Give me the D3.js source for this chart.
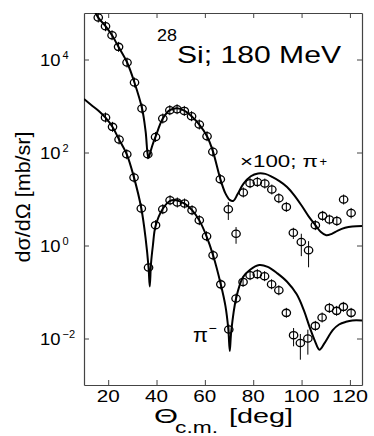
<!DOCTYPE html>
<html>
<head>
<meta charset="utf-8">
<script src="https://cdn.jsdelivr.net/npm/d3@7"></script>
<style>
  body { margin: 0; background: #fff; }
  svg { display: block; font-family: "Liberation Sans", Arial, sans-serif; }
</style>
</head>
<body>
<svg id="chart" width="374" height="436"></svg>
<script>
// tick labels
var xTicks = [20, 40, 60, 80, 100, 120];
var yTicks = [1e4, 1e2, 1e0, 1e-2];
var yExps = ["4", "2", "0", "\u22122"];

// pi+ data (x100), angle in deg, dsigma/dOmega in mb/sr
var piPlusDeg = [15.9, 18.9, 21.6, 24.3, 27.8, 30.9, 34.0, 36.4, 39.6, 42.6, 45.5, 48.5,
                 51.5, 54.5, 57.7, 60.9, 63.3, 66.4, 69.7, 72.9, 75.9, 78.7, 81.7, 84.8,
                 87.7, 90.6, 93.7, 96.6, 99.9, 102.9, 105.7, 108.7, 111.5, 114.6, 117.4, 120.5];
var piPlusVal = [80000, 52000, 33300, 18700, 8600, 3200, 883, 92, 216, 538, 813, 853,
                 785, 604, 400, 224, 104, 26.7, 6.04, 1.79, 13.8, 21.9, 23.3, 21.5,
                 16.0, 10.4, 6.76, 1.88, 1.19, 0.79, 2.74, 4.34, 3.62, 3.38, 9.75, 5.02];
var piPlusErr = [0, 0, 0, 0, 0, 0, 0, 0, 0, 0, 0, 0,
                 0, 0, 0, 0, 0, 0, 2.5, 0.7, 0, 0, 0, 0,
                 0, 0, 0, 0.5, 0.6, 0.45, 0.3, 0.4, 0.5, 0.6, 1.0, 1.2];

// pi- data
var piMinusDeg = [18.9, 21.8, 24.5, 27.7, 30.7, 33.7, 36.7, 39.6, 42.6, 45.6, 48.6, 51.6,
                  54.7, 57.7, 60.7, 63.4, 66.6, 69.9, 72.9, 75.8, 78.7, 81.7, 84.7, 87.6,
                  90.6, 93.7, 96.7, 99.5, 102.6, 105.7, 108.5, 111.5, 114.5, 117.3, 120.5];
var piMinusVal = [566, 356, 191, 91.8, 29.0, 6.25, 0.337, 2.74, 6.04, 9.42, 8.41, 8.0,
                  5.74, 3.50, 1.58, 0.618, 0.146, 0.0156, 0.0724, 0.165, 0.230, 0.242, 0.219, 0.147,
                  0.109, 0.0356, 0.0118, 0.0080, 0.0100, 0.0187, 0.0283, 0.0455, 0.0393, 0.0479, 0.0356];
var piMinusErr = [0, 0, 0, 0, 0, 0, 0, 0, 0, 0, 0, 0,
                  0, 0, 0, 0, 0, 0, 0, 0, 0, 0, 0, 0,
                  0, 0.006, 0.005, 0.0045, 0.0055, 0.004, 0.004, 0.005, 0.005, 0.005, 0.006];

// theory curves
var thPlusDeg = [13.5, 15.9, 18.9, 21.6, 24.3, 27.8, 30.9, 34.0, 35.5, 36.6, 37.3, 38.2,
                 39.6, 42.6, 45.5, 48.5, 51.5, 54.5, 57.7, 60.9, 63.3, 66.4, 68.5, 70.3,
                 71.8, 73.5, 76.0, 79.0, 82.0, 85.0, 88.0, 91.0, 94.0, 97.0, 100.0, 103.0,
                 105.7, 108.0, 110.2, 112.5, 115.0, 118.0, 121.0, 125.0];
var thPlusVal = [141000, 79400, 52500, 33100, 18600, 8710, 3160, 891, 282, 75.9, 95.5, 138,
                 219, 537, 813, 891, 794, 603, 398, 224, 107, 26.9, 13.2, 9.55,
                 9.12, 12.6, 21.4, 30.9, 35.5, 34.7, 29.5, 24.0, 18.2, 12.0, 7.24, 4.17,
                 2.75, 1.95, 1.66, 1.78, 2.09, 2.40, 2.57, 2.63];

var thMinusDeg = [10.0, 13.0, 16.0, 18.9, 21.8, 24.5, 27.7, 30.7, 33.7, 35.5, 36.7, 37.2,
                  37.7, 38.5, 39.6, 42.6, 45.6, 48.6, 51.6, 54.7, 57.7, 60.7, 63.4, 66.6,
                  68.5, 69.7, 70.3, 70.9, 72.9, 75.8, 78.7, 82.5, 86.0, 90.0, 94.0, 98.0,
                  101.0, 103.3, 105.5, 107.4, 109.5, 112.9, 115.5, 118.4, 121.0, 125.0];
var thMinusVal = [1410, 1050, 794, 562, 355, 191, 91.2, 28.8, 6.31, 1.41, 0.339, 0.132,
                  0.398, 1.0, 2.63, 6.17, 9.12, 9.33, 7.94, 5.75, 3.47, 1.58, 0.617, 0.145,
                  0.0501, 0.0158, 0.00537, 0.0141, 0.0724, 0.209, 0.302, 0.380, 0.347, 0.251, 0.166, 0.0891,
                  0.0398, 0.0178, 0.00891, 0.00575, 0.00794, 0.0151, 0.0200, 0.0229, 0.0245, 0.0245];

var svg = d3.select("#chart");
var margin = {top: 13, right: 12, bottom: 51, left: 84},
    width = 374 - margin.left - margin.right,
    height = 436 - margin.top - margin.bottom;

var x = d3.scaleLinear().domain([10, 125]).range([margin.left, margin.left + width]);
var y = d3.scaleLog().domain([1e-3, 1e5]).range([margin.top + height, margin.top]);

svg.append("defs").append("clipPath").attr("id", "plotclip")
  .append("rect")
    .attr("x", margin.left).attr("y", margin.top)
    .attr("width", width).attr("height", height);

// axes, ticks inward on all four sides
var axisColor = "#444";
function styleAxis(g) {
  g.selectAll("path").attr("stroke", axisColor).attr("stroke-width", 1.2);
  g.selectAll("line").attr("stroke", axisColor).attr("stroke-width", 1);
  g.selectAll("text").remove();
}
svg.append("g").attr("transform", "translate(0," + (margin.top + height) + ")")
  .call(d3.axisBottom(x).tickValues(xTicks).tickSizeInner(-5).tickSizeOuter(0)).call(styleAxis);
svg.append("g").attr("transform", "translate(0," + margin.top + ")")
  .call(d3.axisTop(x).tickValues(xTicks).tickSizeInner(-5).tickSizeOuter(0)).call(styleAxis);
svg.append("g").attr("transform", "translate(" + margin.left + ",0)")
  .call(d3.axisLeft(y).tickValues(yTicks).tickSizeInner(-5).tickSizeOuter(0)).call(styleAxis);
svg.append("g").attr("transform", "translate(" + (margin.left + width) + ",0)")
  .call(d3.axisRight(y).tickValues(yTicks).tickSizeInner(-5).tickSizeOuter(0)).call(styleAxis);

// x tick labels
svg.append("g").selectAll("text").data(xTicks).join("text")
  .attr("x", d => x(d)).attr("y", margin.top + height + 17)
  .attr("text-anchor", "middle")
  .attr("font-size", 16)
  .attr("textLength", d => d >= 100 ? 36 : 23)
  .attr("lengthAdjust", "spacingAndGlyphs")
  .text(d => d);

// y tick labels 10^n
var ylab = svg.append("g").selectAll("g").data(yTicks).join("g");
ylab.append("text")
  .attr("x", 40).attr("y", d => y(d) + 6.5)
  .attr("font-size", 16.5)
  .attr("textLength", 20.5).attr("lengthAdjust", "spacingAndGlyphs")
  .text("10");
ylab.append("text")
  .attr("x", 62.5).attr("y", d => y(d) - 1)
  .attr("font-size", 11)
  .text((d, i) => yExps[i]);

// axis titles
svg.append("text").attr("x", 154).attr("y", 423).attr("font-size", 21)
  .attr("textLength", 24).attr("lengthAdjust", "spacingAndGlyphs").text("\u0398");
svg.append("text").attr("x", 175).attr("y", 433).attr("font-size", 16)
  .attr("textLength", 43).attr("lengthAdjust", "spacingAndGlyphs").text("c.m.");
svg.append("text").attr("x", 229).attr("y", 423).attr("font-size", 20)
  .attr("textLength", 64).attr("lengthAdjust", "spacingAndGlyphs").text("[deg]");

svg.append("text")
  .attr("transform", "translate(30,197) rotate(-90)")
  .attr("text-anchor", "middle")
  .attr("font-size", 21)
  .attr("textLength", 131).attr("lengthAdjust", "spacingAndGlyphs")
  .text("d\u03c3/d\u03a9 [mb/sr]");

// curves
var line = d3.line()
  .x(d => x(d[0]))
  .y(d => y(d[1]))
  .curve(d3.curveCatmullRom.alpha(0.5));

var plot = svg.append("g").attr("clip-path", "url(#plotclip)");
[[thPlusDeg, thPlusVal], [thMinusDeg, thMinusVal]].forEach(function(c) {
  plot.append("path")
    .datum(d3.zip(c[0], c[1]))
    .attr("fill", "none")
    .attr("stroke", "#000")
    .attr("stroke-width", 2)
    .attr("d", line);
});

// data points with error bars
function drawPoints(degs, vals, errs) {
  var pts = d3.zip(degs, vals, errs);
  var g = plot.append("g");
  g.selectAll("line").data(pts).join("line")
    .attr("x1", d => x(d[0])).attr("x2", d => x(d[0]))
    .attr("y1", d => Math.min(y(d[1] + d[2]), y(d[1]) - 5))
    .attr("y2", d => Math.max(y(Math.max(d[1] - d[2], 1e-4)), y(d[1]) + 5))
    .attr("stroke", "#000").attr("stroke-width", 1);
  g.selectAll("ellipse").data(pts).join("ellipse")
    .attr("cx", d => x(d[0])).attr("cy", d => y(d[1]))
    .attr("rx", 4.2).attr("ry", 3.6)
    .attr("fill", "none").attr("stroke", "#000").attr("stroke-width", 1.3);
}
drawPoints(piPlusDeg, piPlusVal, piPlusErr);
drawPoints(piMinusDeg, piMinusVal, piMinusErr);

// labels
var t1 = svg.append("g");
t1.append("text").attr("x", 157).attr("y", 41).attr("font-size", 16)
  .attr("textLength", 20).attr("lengthAdjust", "spacingAndGlyphs").text("28");
t1.append("text").attr("x", 177).attr("y", 63.3).attr("font-size", 24.5)
  .attr("textLength", 164).attr("lengthAdjust", "spacingAndGlyphs").text("Si; 180 MeV");

svg.append("text").attr("x", 240).attr("y", 167.3).attr("font-size", 16.5)
  .attr("textLength", 78).attr("lengthAdjust", "spacingAndGlyphs").text("\u00d7100; \u03c0");
svg.append("text").attr("x", 319.5).attr("y", 165.5).attr("font-size", 13).text("+");

svg.append("text").attr("x", 193).attr("y", 341.7).attr("font-size", 21)
  .attr("textLength", 15).attr("lengthAdjust", "spacingAndGlyphs").text("\u03c0");
svg.append("text").attr("x", 208.5).attr("y", 333).attr("font-size", 14).text("\u2212");
</script>
</body>
</html>
